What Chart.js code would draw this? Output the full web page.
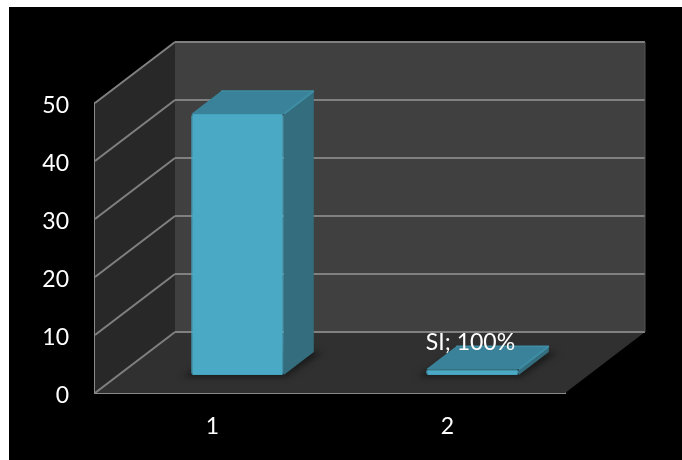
<!DOCTYPE html>
<html>
<head>
<meta charset="utf-8">
<title>SI</title>
<style>
  html, body { margin: 0; height: 100%; background: #fff; overflow: hidden; }
  #wrap { position: absolute; left: 9px; top: 7px; width: 673px; height: 453px; background: #000; }
</style>
<script src="https://cdn.jsdelivr.net/npm/chart.js@4"></script>
</head>
<body>
<div id="wrap"><canvas id="siChart"></canvas></div>
<script>
'use strict';

const categories = ['1', '2'];
const seriesName = 'SI';
const seriesValues = [45, 1];
// only the second bar carries a data label
const labelledBars = [false, true];
const yTicks = [0, 10, 20, 30, 40, 50];

// fake 3D: how far the back wall sits behind the front plane, in px
const wallDepth = { x: 80, y: -61 };
// where the bars stand on the floor, and how deep they are
const barShift = { x: 25, y: -18 };
const barDepth = { x: 30, y: -23 };

function poly(ctx, pts, fill) {
    ctx.beginPath();
    pts.forEach(function (p, i) {
        if (i === 0) ctx.moveTo(p[0], p[1]);
        else ctx.lineTo(p[0], p[1]);
    });
    ctx.closePath();
    ctx.fillStyle = fill;
    ctx.fill();
}

function line(ctx, x1, y1, x2, y2, color, width) {
    ctx.beginPath();
    ctx.moveTo(x1, y1);
    ctx.lineTo(x2, y2);
    ctx.strokeStyle = color;
    ctx.lineWidth = width;
    ctx.stroke();
}

// back wall, side wall and floor, with the gridlines running round them
const wallsPlugin = {
    id: 'walls',
    beforeDatasetsDraw(chart) {
        const ctx = chart.ctx;
        const area = chart.chartArea;
        const y = chart.scales.y;
        const dx = wallDepth.x;
        const dy = wallDepth.y;
        const top = y.getPixelForValue(50);
        const bottom = y.getPixelForValue(0);

        ctx.save();
        poly(ctx, [[area.left + dx, top + dy], [area.right + dx, top + dy], [area.right + dx, bottom + dy], [area.left + dx, bottom + dy]], '#404040');
        poly(ctx, [[area.left, top], [area.left + dx, top + dy], [area.left + dx, bottom + dy], [area.left, bottom]], '#282828');
        poly(ctx, [[area.left, bottom], [area.left + dx, bottom + dy], [area.right + dx, bottom + dy], [area.right, bottom]], '#303030');

        yTicks.forEach(function (v) {
            const py = y.getPixelForValue(v);
            line(ctx, area.left, py, area.left + dx, py + dy, '#808080', 2);
            line(ctx, area.left + dx, py + dy, area.right + dx, py + dy, '#808080', 2);
        });
        line(ctx, area.right + dx, top + dy, area.right + dx, bottom + dy, '#555555', 1);
        ctx.restore();
    }
};

// top and side faces plus the floor shadow; the front faces are the library's own bars
const barsPlugin = {
    id: 'bars3d',
    beforeDatasetsDraw(chart) {
        const ctx = chart.ctx;
        const dx = barDepth.x;
        const dy = barDepth.y;

        ctx.save();
        ctx.translate(barShift.x, barShift.y);
        chart.getDatasetMeta(0).data.forEach(function (bar) {
            const l = bar.x - bar.width / 2;
            const r = bar.x + bar.width / 2;
            const t = bar.y;
            const b = bar.base;

            ctx.save();
            ctx.filter = 'blur(3px)';
            poly(ctx, [[l - 9, b + 2], [r + 2, b + 2], [r + dx + 9, b + dy], [l + dx, b + dy]], '#1a1a1a');
            ctx.restore();

            ctx.lineJoin = 'round';
            poly(ctx, [[r, t], [r + dx, t + dy], [r + dx, b + dy], [r, b]], '#336d7e');
            poly(ctx, [[l, t], [r, t], [r + dx, t + dy], [l + dx, t + dy]], '#3a8299');
            line(ctx, r, t, r + dx, t + dy, '#3f8ea5', 2);
            line(ctx, l + dx, t + dy, r + dx, t + dy, '#3f8ea5', 1.5);
        });
        ctx.restore();

        // the library bars are drawn straight after this, in the same shifted space
        ctx.save();
        ctx.translate(barShift.x, barShift.y);
    },
    afterDatasetsDraw(chart) {
        const ctx = chart.ctx;
        ctx.restore();

        ctx.save();
        ctx.font = '23px Lato';
        ctx.fillStyle = '#ffffff';
        ctx.textAlign = 'center';
        ctx.textBaseline = 'alphabetic';
        chart.getDatasetMeta(0).data.forEach(function (bar, i) {
            if (!labelledBars[i]) return;
            const text = seriesName + '; ' + seriesValues[i] * 100 + '%';
            ctx.fillText(text, bar.x + barShift.x - 2, bar.y + barShift.y + barDepth.y + 4);
        });
        ctx.restore();
    }
};

new Chart(document.getElementById('siChart'), {
    type: 'bar',
    data: {
        labels: categories,
        datasets: [
            {
                label: seriesName,
                data: seriesValues,
                backgroundColor: '#4aaac6',
                borderColor: '#45a2bc',
                borderWidth: 1,
                borderRadius: 2,
                borderSkipped: false,
                categoryPercentage: 1,
                barPercentage: 0.394
            }
        ]
    },
    plugins: [wallsPlugin, barsPlugin],
    options: {
        responsive: true,
        maintainAspectRatio: false,
        animation: false,
        layout: {
            padding: { left: 0, top: 96, right: 117, bottom: 0 }
        },
        plugins: {
            legend: { display: false },
            tooltip: { enabled: false }
        },
        scales: {
            x: {
                grid: { display: false },
                border: { display: true, color: '#8a8a8a', width: 2 },
                ticks: {
                    color: '#ffffff',
                    padding: 12,
                    font: { family: 'Lato', size: 23 }
                },
                afterFit(scale) { scale.height = 67; }
            },
            y: {
                min: 0,
                max: 50,
                grid: { display: false },
                border: { display: true, color: '#8a8a8a', width: 2 },
                afterBuildTicks(scale) { scale.ticks = yTicks.map(function (v) { return { value: v }; }); },
                ticks: {
                    color: '#ffffff',
                    padding: 18,
                    labelOffset: 3,
                    font: { family: 'Lato', size: 23 }
                },
                afterFit(scale) { scale.width = 86; }
            }
        }
    }
});
</script>
</body>
</html>
